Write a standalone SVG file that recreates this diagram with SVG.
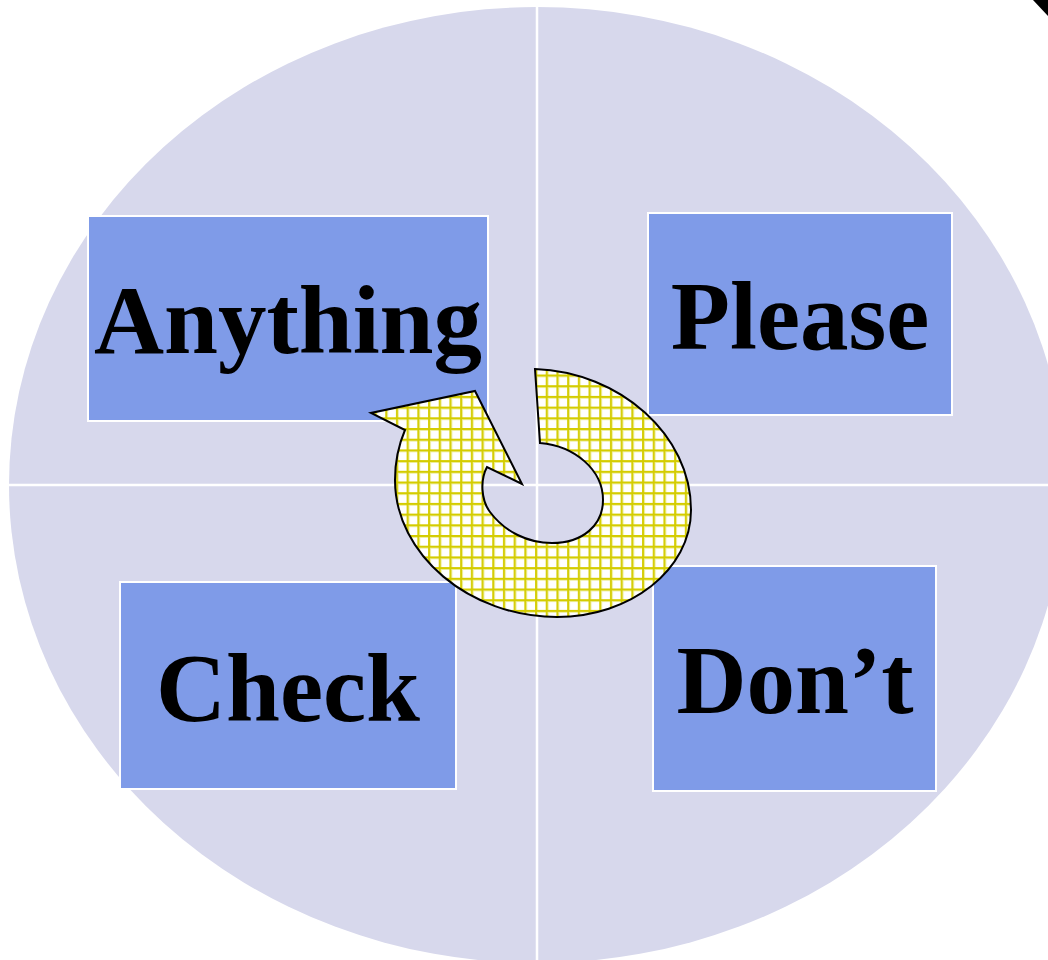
<svg xmlns="http://www.w3.org/2000/svg" width="1048" height="960" viewBox="0 0 1048 960">
<style>
.box{fill:#7f9be8;stroke:#ffffff;stroke-width:2}
.lbl{font-family:"Liberation Serif","Times New Roman",serif;font-weight:bold;font-size:97px;fill:#000;text-anchor:middle}
.div{stroke:#ffffff;stroke-width:2.5}
</style>
<defs>
<pattern id="grid" patternUnits="userSpaceOnUse" width="10.7" height="10.7" x="0" y="0">
<rect width="10.7" height="10.7" fill="#ffffff"/>
<path d="M1 0V10.7M0 1H10.7" stroke="#eeee9a" stroke-width="4"/>
<path d="M1 0V10.7M0 1H10.7" stroke="#d4cc00" stroke-width="1.8"/>
</pattern>
</defs>
<rect width="1048" height="960" fill="#ffffff"/>
<g id="background">
<ellipse cx="537" cy="485" rx="528" ry="478" fill="#d7d8ec"/>
<line class="div" x1="537" y1="0" x2="537" y2="960"/>
<line class="div" x1="0" y1="485" x2="1048" y2="485"/>
<polygon points="1033,0 1048,0 1048,16" fill="#000"/>
</g>
<g id="node-anything">
<rect class="box" x="88" y="216" width="400" height="205"/>
<text class="lbl" x="288" y="353">Anything</text>
</g>
<g id="node-please">
<rect class="box" x="648" y="213" width="304" height="202"/>
<text class="lbl" x="800" y="349">Please</text>
</g>
<g id="node-check">
<rect class="box" x="120" y="582" width="336" height="207"/>
<text class="lbl" x="288" y="721">Check</text>
</g>
<g id="node-dont">
<rect class="box" x="653" y="566" width="283" height="225"/>
<text class="lbl" x="795" y="713">Don’t</text>
</g>
<g id="connectors">
<path d="M535 369 C620 372 691 435 691 510 C691 570 630 617 557 617 C470 617 395 555 395 480 C395 460 399 444 405 430 L371 413 L475 391 L522 484 L487 467 C480 480 481 500 490 512 C505 532 528 543 552 543 C583 543 603 525 603 500 C603 470 575 446 540 443 Z" fill="url(#grid)" stroke="#000" stroke-width="2" stroke-linejoin="miter"/>
</g>
</svg>
